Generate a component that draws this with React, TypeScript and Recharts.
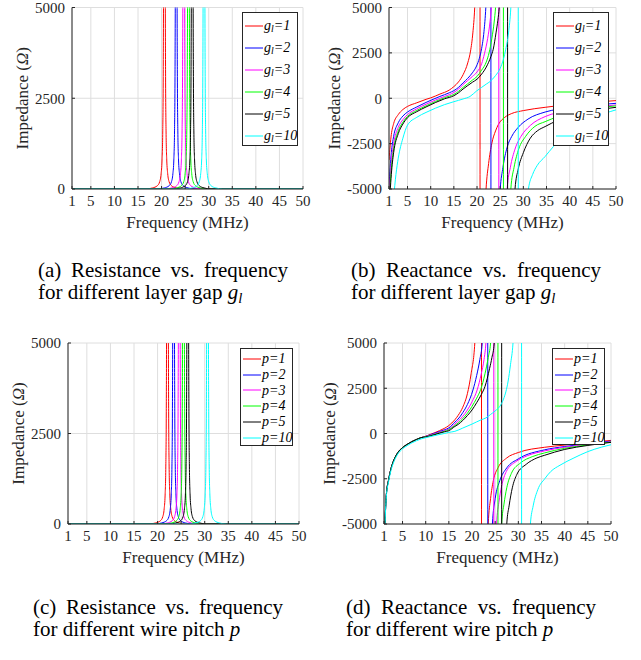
import React from 'react';
import { LineChart, Line, XAxis, YAxis, CartesianGrid } from 'recharts';

type Pt = [number, number];

// axis ticks
const freqTicks = [1, 5, 10, 15, 20, 25, 30, 35, 40, 45, 50];
const resTicks = [0, 2500, 5000];
const reacTicks = [-5000, -2500, 0, 2500, 5000];

const colors = ['#ff0000', '#0000ff', '#ff00ff', '#00ff00', '#000000', '#00ffff'];
const gapValues = ['1', '2', '3', '4', '5', '10'];
const pitchValues = ['1', '2', '3', '4', '5', '10'];

// (a) resistance, layer gap g_l  [MHz, Ohm]
const resGap1: Pt[] = [[1,0],[16.6,0],[18.1,30],[19.1,90],[19.6,200],[19.9,420],[20.1,800],[20.25,1600],[20.35,3100],[20.45,8500],[20.6,60000],[20.75,8500],[20.85,3100],[20.95,1600],[21.1,800],[21.3,420],[21.6,200],[22.1,90],[23.1,30],[24.6,0],[50,0]];
const resGap2: Pt[] = [[1,0],[19.1,0],[20.6,30],[21.6,90],[22.1,200],[22.4,420],[22.6,800],[22.75,1600],[22.85,3100],[22.95,8500],[23.1,60000],[23.25,8500],[23.35,3100],[23.45,1600],[23.6,800],[23.8,420],[24.1,200],[24.6,90],[25.6,30],[27.1,0],[50,0]];
const resGap3: Pt[] = [[1,0],[20.7,0],[22.2,30],[23.2,90],[23.7,200],[24.0,420],[24.2,800],[24.35,1600],[24.45,3100],[24.55,8500],[24.7,60000],[24.85,8500],[24.95,3100],[25.05,1600],[25.2,800],[25.4,420],[25.7,200],[26.2,90],[27.2,30],[28.7,0],[50,0]];
const resGap4: Pt[] = [[1,0],[21.7,0],[23.2,30],[24.2,90],[24.7,200],[25.0,420],[25.2,800],[25.35,1600],[25.45,3100],[25.55,8500],[25.7,60000],[25.85,8500],[25.95,3100],[26.05,1600],[26.2,800],[26.4,420],[26.7,200],[27.2,90],[28.2,30],[29.7,0],[50,0]];
const resGap5: Pt[] = [[1,0],[22.5,0],[24.0,30],[25.0,90],[25.5,200],[25.8,420],[26.0,800],[26.15,1600],[26.25,3100],[26.35,8500],[26.5,60000],[26.65,8500],[26.75,3100],[26.85,1600],[27.0,800],[27.2,420],[27.5,200],[28.0,90],[29.0,30],[30.5,0],[50,0]];
const resGap10: Pt[] = [[1,0],[25.0,0],[26.5,30],[27.5,90],[28.0,200],[28.3,420],[28.5,800],[28.65,1600],[28.75,3100],[28.85,8500],[29.0,60000],[29.15,8500],[29.25,3100],[29.35,1600],[29.5,800],[29.7,420],[30.0,200],[30.5,90],[31.5,30],[33.0,0],[50,0]];

// (b) reactance, layer gap g_l
const reacGap1: Pt[] = [[1,-3400],[1.5,-2000],[2,-1400],[3,-900],[4,-620],[5,-450],[7,-250],[9,-60],[10,20],[12,230],[14,450],[15,640],[16,900],[17,1300],[18,1950],[18.6,2600],[19.1,3600],[19.5,5000],[19.9,8000],[20.3,16000],[20.6,60000],[20.7,-60000],[21.1,-15000],[21.5,-7500],[21.95,-5000],[22.5,-3600],[23.2,-2480],[24,-1800],[24.6,-1450],[26,-1050],[27.5,-840],[30,-680],[34.7,-500],[40,-340],[45,-220],[50,-130]];
const reacGap2: Pt[] = [[1,-4800],[1.5,-3000],[2,-2100],[3,-1350],[4,-980],[5,-760],[7,-480],[9,-230],[10.5,-60],[12,100],[14,300],[15,420],[16,600],[17,850],[18,1100],[19,1400],[19.9,1780],[20.5,2200],[21,2750],[21.5,3670],[21.9,5000],[22.3,7500],[22.7,15000],[22.95,60000],[23.05,-60000],[23.5,-20000],[24.2,-9000],[25.0,-5000],[25.6,-3800],[26.5,-2700],[27.5,-2100],[28.9,-1600],[31,-1150],[34.7,-760],[40,-520],[45,-380],[50,-280]];
const reacGap3: Pt[] = [[1,-5400],[1.5,-3500],[2,-2500],[3,-1600],[4,-1180],[5,-900],[7,-580],[9,-330],[11,-100],[12,0],[13,100],[15,320],[16,500],[17,760],[18,980],[19,1200],[20,1450],[21,1900],[21.6,2450],[22.3,3300],[22.8,4200],[23.1,5000],[23.6,7500],[24.2,16000],[24.65,60000],[24.75,-60000],[25.3,-18000],[25.9,-8000],[26.5,-5000],[27.2,-3800],[28.2,-2800],[29.5,-2100],[31.5,-1500],[34.7,-1010],[40,-680],[45,-500],[50,-370]];
const reacGap4: Pt[] = [[1,-5900],[1.5,-3900],[2,-2800],[3,-1800],[4,-1320],[5,-1000],[7,-670],[9,-420],[11,-180],[13,30],[15,215],[16,380],[17,600],[18,800],[19,1000],[20,1200],[21,1550],[22,2000],[22.6,2500],[23.2,3300],[23.7,4200],[24.0,5000],[24.5,7500],[25.1,16000],[25.65,60000],[25.75,-60000],[26.3,-18000],[26.8,-8000],[27.3,-5000],[28,-3800],[29,-2800],[30.5,-2100],[32.5,-1550],[34.7,-1290],[40,-800],[45,-570],[50,-420]];
const reacGap5: Pt[] = [[1,-6300],[1.5,-4200],[2,-3000],[3,-1950],[4,-1420],[5,-1070],[7,-740],[9,-480],[11,-240],[13,-30],[15,140],[16,300],[17,510],[18,700],[19,880],[20,1050],[21,1330],[22,1720],[23,2300],[23.5,2700],[24.1,3600],[24.5,4300],[24.8,5000],[25.3,7500],[26,16000],[26.55,60000],[26.65,-60000],[27.2,-18000],[27.7,-8000],[28.2,-5000],[28.9,-3900],[30,-3000],[31.5,-2200],[33,-1800],[34.7,-1560],[40,-950],[45,-680],[50,-500]];
const reacGap10: Pt[] = [[1,-9000],[1.5,-7000],[2,-5500],[2.5,-4200],[3,-3300],[4,-2200],[5,-1480],[7,-1050],[9,-780],[11,-550],[13,-350],[15,-190],[17,-40],[18.5,100],[19.9,400],[21,600],[22,780],[22.8,920],[24,1250],[25,1650],[25.7,2150],[26.2,2700],[26.8,3600],[27.3,5000],[27.8,8000],[28.4,17000],[28.85,60000],[28.95,-60000],[29.5,-20000],[30.3,-9000],[31.1,-5000],[32,-4200],[33,-3700],[34.7,-3210],[36.5,-2660],[40,-1900],[45,-1100],[50,-640]];

// (c) resistance, wire pitch p
const resPitch1: Pt[] = [[1,0],[18.1,0],[19.6,30],[20.6,90],[21.1,200],[21.4,420],[21.6,800],[21.75,1600],[21.85,3100],[21.95,8500],[22.1,60000],[22.25,8500],[22.35,3100],[22.45,1600],[22.6,800],[22.8,420],[23.1,200],[23.6,90],[24.6,30],[26.1,0],[50,0]];
const resPitch2: Pt[] = [[1,0],[19.4,0],[20.9,30],[21.9,90],[22.4,200],[22.7,420],[22.9,800],[23.05,1600],[23.15,3100],[23.25,8500],[23.4,60000],[23.55,8500],[23.65,3100],[23.75,1600],[23.9,800],[24.1,420],[24.4,200],[24.9,90],[25.9,30],[27.4,0],[50,0]];
const resPitch3: Pt[] = [[1,0],[20.6,0],[22.1,30],[23.1,90],[23.6,200],[23.9,420],[24.1,800],[24.25,1600],[24.35,3100],[24.45,8500],[24.6,60000],[24.75,8500],[24.85,3100],[24.95,1600],[25.1,800],[25.3,420],[25.6,200],[26.1,90],[27.1,30],[28.6,0],[50,0]];
const resPitch4: Pt[] = [[1,0],[21.5,0],[23.0,30],[24.0,90],[24.5,200],[24.8,420],[25.0,800],[25.15,1600],[25.25,3100],[25.35,8500],[25.5,60000],[25.65,8500],[25.75,3100],[25.85,1600],[26.0,800],[26.2,420],[26.5,200],[27.0,90],[28.0,30],[29.5,0],[50,0]];
const resPitch5: Pt[] = [[1,0],[22.4,0],[23.9,30],[24.9,90],[25.4,200],[25.7,420],[25.9,800],[26.05,1600],[26.15,3100],[26.25,8500],[26.4,60000],[26.55,8500],[26.65,3100],[26.75,1600],[26.9,800],[27.1,420],[27.4,200],[27.9,90],[28.9,30],[30.4,0],[50,0]];
const resPitch10: Pt[] = [[1,0],[26.6,0],[28.1,30],[29.1,90],[29.6,200],[29.9,420],[30.1,800],[30.25,1600],[30.35,3100],[30.45,8500],[30.6,60000],[30.75,8500],[30.85,3100],[30.95,1600],[31.1,800],[31.3,420],[31.6,200],[32.1,90],[33.1,30],[34.6,0],[50,0]];

// (d) reactance, wire pitch p (all share the low-frequency branch)
const reacPitchLow: Pt[] = [[1,-6500],[1.2,-5000],[1.5,-3400],[2,-2550],[2.5,-1950],[3,-1550],[4,-1050],[5,-780],[6,-600],[7,-450],[8,-330],[9,-230]];
const reacPitch1: Pt[] = [...reacPitchLow, [10,-150],[11,-50],[12,50],[13,160],[14,280],[15,440],[16.3,760],[17,1000],[18,1450],[19,2200],[19.8,3300],[20.6,5000],[21.2,8500],[21.7,18000],[22.0,60000],[22.1,-60000],[22.5,-18000],[23.0,-9000],[23.5,-5000],[24.0,-3600],[24.6,-2600],[25.6,-1900],[27.5,-1350],[30,-1050],[35.7,-760],[40,-640],[45,-500],[50,-380]];
const reacPitch2: Pt[] = [...reacPitchLow, [10,-160],[11,-70],[12,20],[13,110],[14,200],[15,310],[16.3,630],[17,800],[18,1150],[19,1600],[20.2,2400],[21,3200],[21.7,4100],[22.2,5000],[22.7,8500],[23.1,20000],[23.35,60000],[23.45,-60000],[23.8,-15000],[24.4,-5000],[25,-3600],[26,-2600],[27.5,-1900],[30,-1400],[35.7,-900],[40,-720],[45,-560],[50,-420]];
const reacPitch3: Pt[] = [...reacPitchLow, [10,-170],[12,-10],[13,70],[14,160],[15,250],[16.3,520],[17,680],[18,950],[19,1300],[20,1750],[21.1,2400],[22,3300],[22.6,4100],[23.0,5000],[23.6,8500],[24.2,20000],[24.65,60000],[24.75,-60000],[25.0,-15000],[25.3,-5000],[25.8,-3800],[26.4,-2900],[27.4,-2100],[29.5,-1550],[32,-1220],[35.7,-960],[40,-760],[45,-600],[50,-450]];
const reacPitch4: Pt[] = [...reacPitchLow, [10,-180],[12,-40],[13,40],[14,120],[15,210],[16.3,440],[17,580],[18,820],[19,1120],[20,1500],[21,1950],[21.9,2450],[22.8,3300],[23.5,4200],[24.0,5000],[24.6,8500],[25.2,20000],[25.55,60000],[25.65,-60000],[25.95,-15000],[26.4,-5000],[26.9,-3900],[27.5,-3000],[28.5,-2200],[30.5,-1620],[33,-1280],[35.7,-1070],[40,-820],[45,-630],[50,-470]];
const reacPitch5: Pt[] = [...reacPitchLow, [10,-190],[12,-60],[13,20],[14,90],[15,155],[16.3,390],[17,500],[18,720],[19,990],[20,1300],[21,1700],[22,2150],[22.8,2600],[23.8,3600],[24.3,4200],[24.8,5000],[25.4,8500],[26.0,20000],[26.35,60000],[26.45,-60000],[26.9,-15000],[27.5,-5000],[28.0,-4000],[28.7,-3000],[29.7,-2250],[31.7,-1700],[34,-1350],[35.7,-1200],[40,-880],[45,-660],[50,-490]];
const reacPitch10: Pt[] = [[1,-6600],[1.2,-5100],[1.5,-3500],[2,-2650],[2.5,-2050],[3,-1650],[4,-1130],[5,-850],[6,-670],[7,-520],[8,-400],[9,-300],[10,-230],[12,-110],[14,0],[15,63],[16.3,120],[18,300],[20,520],[22,760],[23,860],[24,1050],[25,1250],[26,1500],[26.8,1900],[27.3,2300],[27.8,2900],[28.3,3800],[28.85,5000],[29.5,8500],[30.2,20000],[30.65,60000],[30.75,-60000],[31.3,-15000],[32.6,-5000],[33.2,-4000],[34.2,-3100],[35.7,-2500],[37,-2100],[39,-1750],[42,-1350],[45,-1000],[48,-750],[50,-620]];

const toPts = (arr: Pt[]) => arr.map(([f, v]) => ({ f, v }));

const W = 320;
const H = 240;
const serif = '"Liberation Serif", "Times New Roman", serif';
const axisColor = '#262626';

interface PanelProps {
  left: number;
  top: number;
  plot: { l: number; r: number; t: number; b: number };
  yTicks: number[];
  yDomain: [number, number];
  series: Pt[][];
  legendText: React.ReactNode[];
  legend: { l: number; t: number; w: number; h: number; row: number };
  yLabelX: number;
}

const Panel: React.FC<PanelProps> = ({ left, top, plot, yTicks, yDomain, series, legendText, legend, yLabelX }) => {
  const margin = { top: plot.t, right: W - plot.r, left: plot.l - 60, bottom: H - plot.b - 40 };
  const tickStyle = { fill: axisColor, fontSize: 15, fontFamily: serif };
  const cx = (plot.l + plot.r) / 2;
  const cy = (plot.t + plot.b) / 2;
  return (
    <div style={{ position: 'absolute', left, top, width: W, height: H }}>
      <LineChart width={W} height={H} margin={margin}>
        <CartesianGrid stroke="#dedede" strokeWidth={1} />
        <XAxis
          dataKey="f"
          type="number"
          domain={[1, 50]}
          ticks={freqTicks}
          interval={0}
          allowDataOverflow
          height={40}
          tickSize={-3}
          tickMargin={9}
          tick={tickStyle}
          stroke={axisColor}
          label={() => (
            <text x={cx} y={plot.b + 39} textAnchor="middle" fontSize={17} fontFamily={serif} fill={axisColor}>
              Frequency (MHz)
            </text>
          )}
        />
        <XAxis
          xAxisId="top"
          orientation="top"
          dataKey="f"
          type="number"
          domain={[1, 50]}
          ticks={freqTicks}
          interval={0}
          allowDataOverflow
          height={0}
          tickSize={-3}
          tick={false}
          stroke={axisColor}
        />
        <YAxis
          type="number"
          domain={yDomain}
          ticks={yTicks}
          interval={0}
          allowDataOverflow
          width={60}
          tickSize={-3}
          tickMargin={10}
          tick={tickStyle}
          stroke={axisColor}
          label={() => (
            <text
              x={yLabelX}
              y={cy}
              transform={`rotate(-90 ${yLabelX} ${cy})`}
              textAnchor="middle"
              dominantBaseline="central"
              fontSize={17}
              fontFamily={serif}
              fill={axisColor}
            >
              Impedance (<tspan fontStyle="italic">Ω</tspan>)
            </text>
          )}
        />
        <YAxis
          yAxisId="right"
          orientation="right"
          type="number"
          domain={yDomain}
          ticks={yTicks}
          interval={0}
          allowDataOverflow
          width={0}
          tickSize={-3}
          tick={false}
          stroke={axisColor}
        />
        {series.map((s, i) => (
          <Line
            key={i}
            data={toPts(s)}
            dataKey="v"
            type="monotone"
            stroke={colors[i]}
            strokeWidth={1}
            dot={false}
            activeDot={false}
            isAnimationActive={false}
          />
        ))}
      </LineChart>
      <div
        style={{
          position: 'absolute',
          left: legend.l,
          top: legend.t,
          width: legend.w,
          height: legend.h,
          boxSizing: 'border-box',
          border: `1px solid ${axisColor}`,
          background: '#fff',
          fontFamily: serif,
          fontSize: 14,
          fontStyle: 'italic',
          color: '#000',
        }}
      >
        {legendText.map((t, i) => (
          <div
            key={i}
            style={{
              position: 'absolute',
              left: 2,
              top: 2 + i * legend.row,
              height: legend.row,
              display: 'flex',
              alignItems: 'center',
              whiteSpace: 'nowrap',
            }}
          >
            <svg width={18} height={4} style={{ marginRight: 1 }}>
              <line x1={0} y1={2} x2={18} y2={2} stroke={colors[i]} strokeWidth={1} />
            </svg>
            <span>{t}</span>
          </div>
        ))}
      </div>
    </div>
  );
};

const gapText = gapValues.map((v) => (
  <>
    g<sub style={{ fontSize: '70%', verticalAlign: '-0.25em' }}>l</sub>={v}
  </>
));
const pitchText = pitchValues.map((v) => <>p={v}</>);

const Caption: React.FC<{ left: number; top: number; first: string; second: React.ReactNode }> = ({ left, top, first, second }) => (
  <div style={{ position: 'absolute', left, top, fontFamily: serif, fontSize: 21, lineHeight: '22px', color: '#000' }}>
    <div style={{ width: 250, textAlign: 'justify', textAlignLast: 'justify', whiteSpace: 'nowrap' }}>{first}</div>
    <div style={{ whiteSpace: 'nowrap' }}>{second}</div>
  </div>
);

const gapSym = (
  <span style={{ fontStyle: 'italic' }}>
    g<sub style={{ fontSize: '70%', verticalAlign: '-0.25em' }}>l</sub>
  </span>
);

export default function App() {
  return (
    <div style={{ position: 'absolute', left: 0, top: 0, width: 641, height: 660, background: '#fff', overflow: 'hidden' }}>
      <Panel
        left={0}
        top={0}
        plot={{ l: 72, r: 303, t: 7.5, b: 189 }}
        yTicks={resTicks}
        yDomain={[0, 5000]}
        series={[resGap1, resGap2, resGap3, resGap4, resGap5, resGap10]}
        legendText={gapText}
        legend={{ l: 242, t: 12, w: 56, h: 134, row: 22 }}
        yLabelX={22}
      />
      <Panel
        left={320}
        top={0}
        plot={{ l: 69, r: 296, t: 7.5, b: 189 }}
        yTicks={reacTicks}
        yDomain={[-5000, 5000]}
        series={[reacGap1, reacGap2, reacGap3, reacGap4, reacGap5, reacGap10]}
        legendText={gapText}
        legend={{ l: 233, t: 12, w: 56, h: 134, row: 22 }}
        yLabelX={14}
      />
      <Panel
        left={0}
        top={336}
        plot={{ l: 68, r: 299, t: 7, b: 188 }}
        yTicks={resTicks}
        yDomain={[0, 5000]}
        series={[resPitch1, resPitch2, resPitch3, resPitch4, resPitch5, resPitch10]}
        legendText={pitchText}
        legend={{ l: 240, t: 12, w: 53, h: 98, row: 15.8 }}
        yLabelX={18}
      />
      <Panel
        left={320}
        top={336}
        plot={{ l: 64, r: 291, t: 7, b: 188 }}
        yTicks={reacTicks}
        yDomain={[-5000, 5000]}
        series={[reacPitch1, reacPitch2, reacPitch3, reacPitch4, reacPitch5, reacPitch10]}
        legendText={pitchText}
        legend={{ l: 232, t: 12, w: 53, h: 97, row: 15.8 }}
        yLabelX={9.5}
      />
      <Caption left={38} top={259} first="(a) Resistance vs. frequency" second={<>for different layer gap {gapSym}</>} />
      <Caption left={351} top={259} first="(b) Reactance vs. frequency" second={<>for different layer gap {gapSym}</>} />
      <Caption left={33} top={596} first="(c) Resistance vs. frequency" second={<>for different wire pitch <i>p</i></>} />
      <Caption left={346} top={596} first="(d) Reactance vs. frequency" second={<>for different wire pitch <i>p</i></>} />
    </div>
  );
}
